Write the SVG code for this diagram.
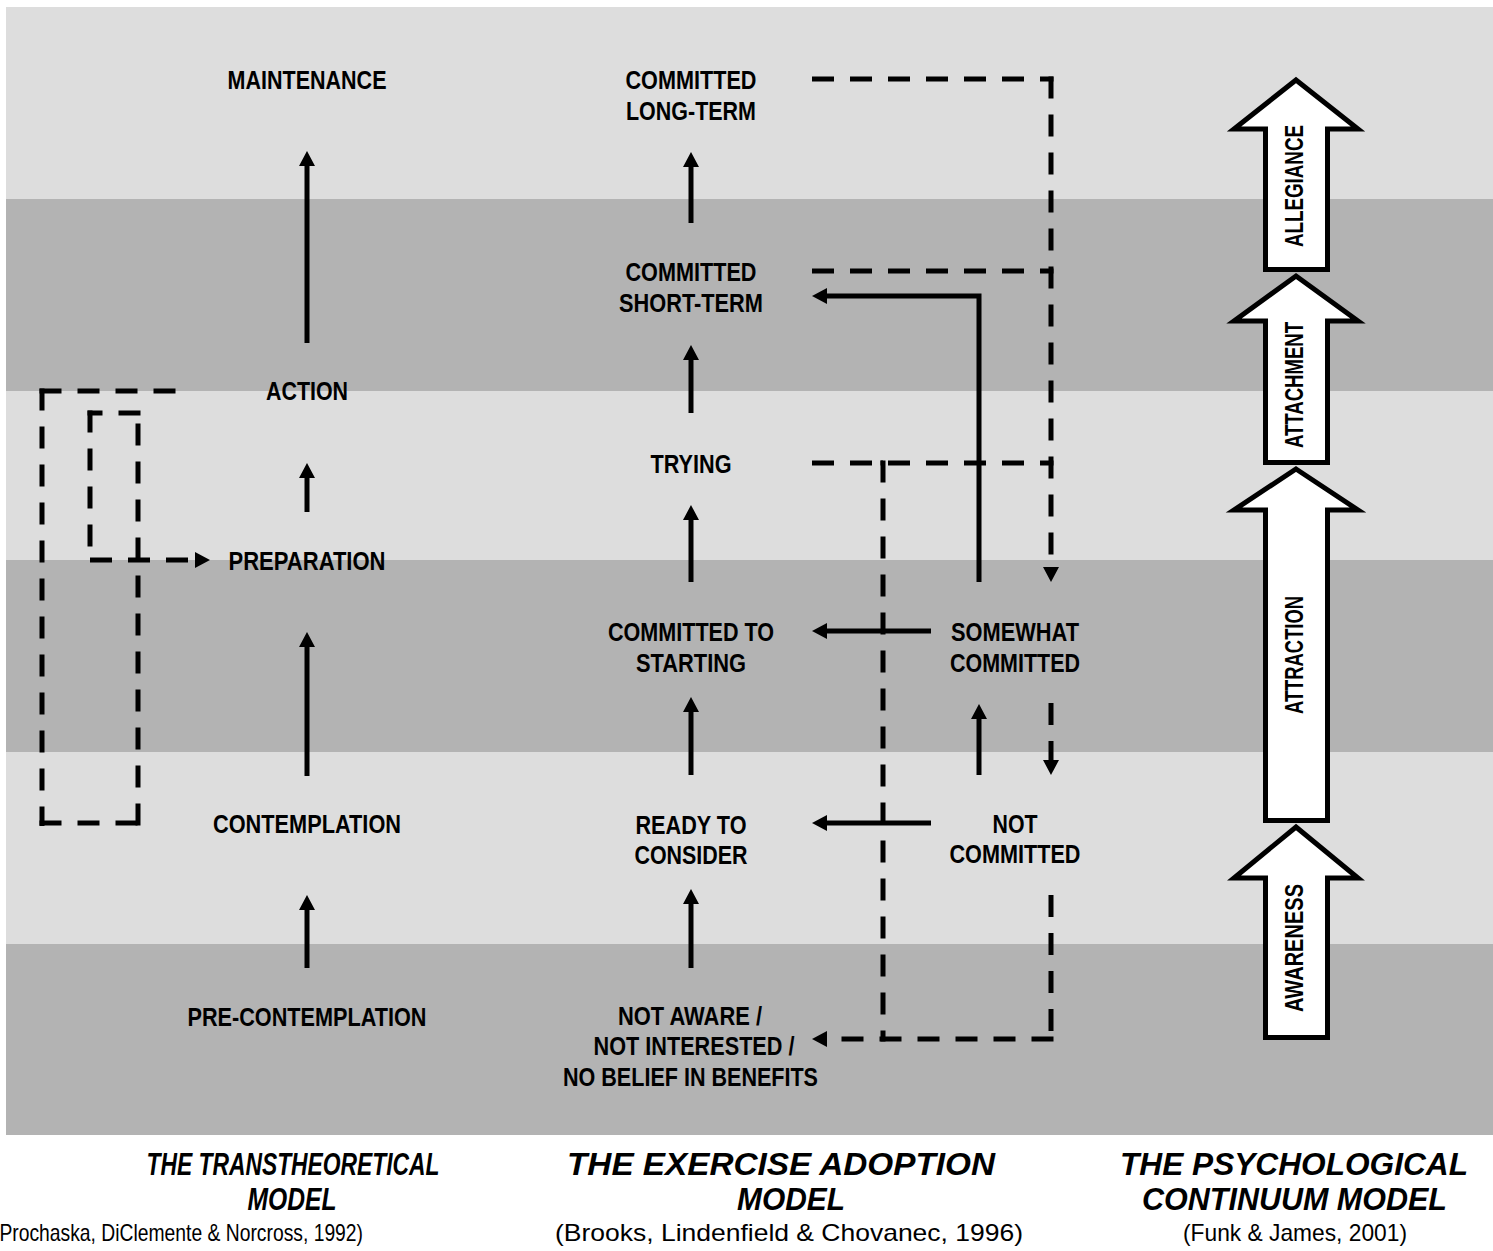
<svg xmlns="http://www.w3.org/2000/svg" width="1493" height="1251" viewBox="0 0 1493 1251">
<style>
.lbl{font-family:"Liberation Sans Narrow","Liberation Sans",Arial,sans-serif;font-weight:bold;font-size:25px;fill:#000;text-anchor:middle}
.rot{font-family:"Liberation Sans Narrow","Liberation Sans",Arial,sans-serif;font-weight:bold;font-size:25px;fill:#000;text-anchor:middle}
.ttl{font-family:"Liberation Sans","Arial",sans-serif;font-weight:bold;font-style:italic;font-size:32px;fill:#000;text-anchor:middle}
.cit{font-family:"Liberation Sans","Arial",sans-serif;font-size:24px;fill:#000;text-anchor:middle}
.sol{stroke:#000;stroke-width:5;fill:none}
.dash{stroke:#000;stroke-width:5;fill:none;stroke-dasharray:22 16}
.blk{fill:#fff;stroke:#000;stroke-width:5;stroke-linejoin:miter;stroke-miterlimit:10}
.light{fill:#dddddd}
.dark{fill:#b3b3b3}
</style>
<defs>
<marker id="ah" viewBox="0 -8 15 16" refX="0" refY="0" markerWidth="15" markerHeight="16" markerUnits="userSpaceOnUse" orient="auto">
<path d="M0,-8 L15,0 L0,8 z" fill="#000"/>
</marker>
</defs>
<rect x="0" y="0" width="1493" height="1251" fill="#fff"/>
<g id="bands">
<rect class="light" x="6" y="7" width="1487" height="192"/>
<rect class="dark" x="6" y="199" width="1487" height="192"/>
<rect class="light" x="6" y="391" width="1487" height="169"/>
<rect class="dark" x="6" y="560" width="1487" height="192"/>
<rect class="light" x="6" y="752" width="1487" height="192"/>
<rect class="dark" x="6" y="944" width="1487" height="191"/>
</g>
<g id="connectors">
<!-- transtheoretical solid -->
<line class="sol" x1="307" y1="343" x2="307" y2="166" marker-end="url(#ah)"/>
<line class="sol" x1="307" y1="512" x2="307" y2="478" marker-end="url(#ah)"/>
<line class="sol" x1="307" y1="776" x2="307" y2="647" marker-end="url(#ah)"/>
<line class="sol" x1="307" y1="968" x2="307" y2="910" marker-end="url(#ah)"/>
<!-- transtheoretical dashed relapse -->
<line class="dash" x1="39.5" y1="391" x2="176" y2="391"/>
<line class="dash" x1="42" y1="388.5" x2="42" y2="826"/>
<line class="dash" x1="39.5" y1="823" x2="140.5" y2="823"/>
<line class="dash" x1="138" y1="825.5" x2="138" y2="410.5"/>
<line class="dash" x1="140.5" y1="413" x2="87.5" y2="413"/>
<line class="dash" x1="90" y1="410.5" x2="90" y2="562.5"/>
<line class="dash" x1="90" y1="560" x2="195" y2="560" marker-end="url(#ah)"/>
<!-- exercise adoption solid -->
<line class="sol" x1="691" y1="223" x2="691" y2="167" marker-end="url(#ah)"/>
<line class="sol" x1="691" y1="413" x2="691" y2="360" marker-end="url(#ah)"/>
<line class="sol" x1="691" y1="582" x2="691" y2="520" marker-end="url(#ah)"/>
<line class="sol" x1="691" y1="775" x2="691" y2="712" marker-end="url(#ah)"/>
<line class="sol" x1="691" y1="968" x2="691" y2="904" marker-end="url(#ah)"/>
<line class="sol" x1="931" y1="631" x2="827" y2="631" marker-end="url(#ah)"/>
<line class="sol" x1="931" y1="823" x2="827" y2="823" marker-end="url(#ah)"/>
<line class="sol" x1="979" y1="775" x2="979" y2="719" marker-end="url(#ah)"/>
<path class="sol" d="M979,582 V296 H827" marker-end="url(#ah)"/>
<!-- exercise adoption dashed -->
<line class="dash" x1="812" y1="79" x2="1053.5" y2="79"/>
<line class="dash" x1="1051" y1="76.5" x2="1051" y2="567" marker-end="url(#ah)"/>
<line class="dash" x1="812" y1="271" x2="1053.5" y2="271"/>
<line class="dash" x1="812" y1="463" x2="1053.5" y2="463"/>
<line class="dash" x1="880.5" y1="463" x2="883" y2="463"/>
<line class="dash" x1="883" y1="460.5" x2="883" y2="1041.5"/>
<line class="dash" x1="1051" y1="703" x2="1051" y2="760" marker-end="url(#ah)"/>
<line class="dash" x1="1051" y1="895" x2="1051" y2="1041.5"/>
<line class="dash" x1="1053.5" y1="1039" x2="827" y2="1039" marker-end="url(#ah)"/>
</g>
<g id="n-maintenance"><text class="lbl" x="307" y="89" textLength="159" lengthAdjust="spacingAndGlyphs">MAINTENANCE</text></g>
<g id="n-action"><text class="lbl" x="307" y="400" textLength="82" lengthAdjust="spacingAndGlyphs">ACTION</text></g>
<g id="n-preparation"><text class="lbl" x="307" y="570" textLength="157" lengthAdjust="spacingAndGlyphs">PREPARATION</text></g>
<g id="n-contemplation"><text class="lbl" x="307" y="833" textLength="188" lengthAdjust="spacingAndGlyphs">CONTEMPLATION</text></g>
<g id="n-precontemplation"><text class="lbl" x="307" y="1026" textLength="239" lengthAdjust="spacingAndGlyphs">PRE-CONTEMPLATION</text></g>

<g id="n-committed-long"><text class="lbl" x="691" y="89" textLength="131" lengthAdjust="spacingAndGlyphs">COMMITTED</text><text class="lbl" x="691" y="120" textLength="130" lengthAdjust="spacingAndGlyphs">LONG-TERM</text></g>
<g id="n-committed-short"><text class="lbl" x="691" y="281" textLength="131" lengthAdjust="spacingAndGlyphs">COMMITTED</text><text class="lbl" x="691" y="312" textLength="144" lengthAdjust="spacingAndGlyphs">SHORT-TERM</text></g>
<g id="n-trying"><text class="lbl" x="691" y="473" textLength="81" lengthAdjust="spacingAndGlyphs">TRYING</text></g>
<g id="n-committed-starting"><text class="lbl" x="691" y="641" textLength="166" lengthAdjust="spacingAndGlyphs">COMMITTED TO</text><text class="lbl" x="691" y="672" textLength="110" lengthAdjust="spacingAndGlyphs">STARTING</text></g>
<g id="n-ready"><text class="lbl" x="691" y="834" textLength="111" lengthAdjust="spacingAndGlyphs">READY TO</text><text class="lbl" x="691" y="864" textLength="113" lengthAdjust="spacingAndGlyphs">CONSIDER</text></g>
<g id="n-not-aware"><text class="lbl" x="690" y="1025" textLength="144" lengthAdjust="spacingAndGlyphs">NOT AWARE /</text><text class="lbl" x="694" y="1055" textLength="201" lengthAdjust="spacingAndGlyphs">NOT INTERESTED /</text><text class="lbl" x="690.5" y="1086" textLength="255" lengthAdjust="spacingAndGlyphs">NO BELIEF IN BENEFITS</text></g>
<g id="n-somewhat"><text class="lbl" x="1015" y="641" textLength="128" lengthAdjust="spacingAndGlyphs">SOMEWHAT</text><text class="lbl" x="1015" y="672" textLength="130" lengthAdjust="spacingAndGlyphs">COMMITTED</text></g>
<g id="n-not-committed"><text class="lbl" x="1015" y="833" textLength="45" lengthAdjust="spacingAndGlyphs">NOT</text><text class="lbl" x="1015" y="863" textLength="131" lengthAdjust="spacingAndGlyphs">COMMITTED</text></g>

<g id="n-awareness"><polygon class="blk" points="1296,827 1358,878 1327.5,878 1327.5,1037.5 1265.5,1037.5 1265.5,878 1234,878"/><text class="rot" transform="translate(1303,948) rotate(-90)" textLength="128" lengthAdjust="spacingAndGlyphs">AWARENESS</text></g>
<g id="n-attraction"><polygon class="blk" points="1296,469 1358,510 1327.5,510 1327.5,820.5 1265.5,820.5 1265.5,510 1234,510"/><text class="rot" transform="translate(1303,655) rotate(-90)" textLength="118" lengthAdjust="spacingAndGlyphs">ATTRACTION</text></g>
<g id="n-attachment"><polygon class="blk" points="1296,276 1358,321 1327.5,321 1327.5,462.5 1265.5,462.5 1265.5,321 1234,321"/><text class="rot" transform="translate(1303,385) rotate(-90)" textLength="126" lengthAdjust="spacingAndGlyphs">ATTACHMENT</text></g>
<g id="n-allegiance"><polygon class="blk" points="1296,80 1358,129 1327.5,129 1327.5,269.5 1265.5,269.5 1265.5,129 1234,129"/><text class="rot" transform="translate(1303,186) rotate(-90)" textLength="122" lengthAdjust="spacingAndGlyphs">ALLEGIANCE</text></g>

<g id="cap-transtheoretical">
<text class="ttl" x="293" y="1175" textLength="293" lengthAdjust="spacingAndGlyphs">THE TRANSTHEORETICAL</text>
<text class="ttl" x="292" y="1210" textLength="89" lengthAdjust="spacingAndGlyphs">MODEL</text>
<text class="cit" x="178" y="1241" textLength="370" lengthAdjust="spacingAndGlyphs">(Prochaska, DiClemente &amp; Norcross, 1992)</text>
</g>
<g id="cap-exercise">
<text class="ttl" x="781" y="1175" textLength="428" lengthAdjust="spacingAndGlyphs">THE EXERCISE ADOPTION</text>
<text class="ttl" x="791" y="1210" textLength="108" lengthAdjust="spacingAndGlyphs">MODEL</text>
<text class="cit" x="789" y="1241" textLength="468" lengthAdjust="spacingAndGlyphs">(Brooks, Lindenfield &amp; Chovanec, 1996)</text>
</g>
<g id="cap-psychological">
<text class="ttl" x="1294" y="1175" textLength="348" lengthAdjust="spacingAndGlyphs">THE PSYCHOLOGICAL</text>
<text class="ttl" x="1294.5" y="1210" textLength="305" lengthAdjust="spacingAndGlyphs">CONTINUUM MODEL</text>
<text class="cit" x="1295" y="1241" textLength="224" lengthAdjust="spacingAndGlyphs">(Funk &amp; James, 2001)</text>
</g>
</svg>
